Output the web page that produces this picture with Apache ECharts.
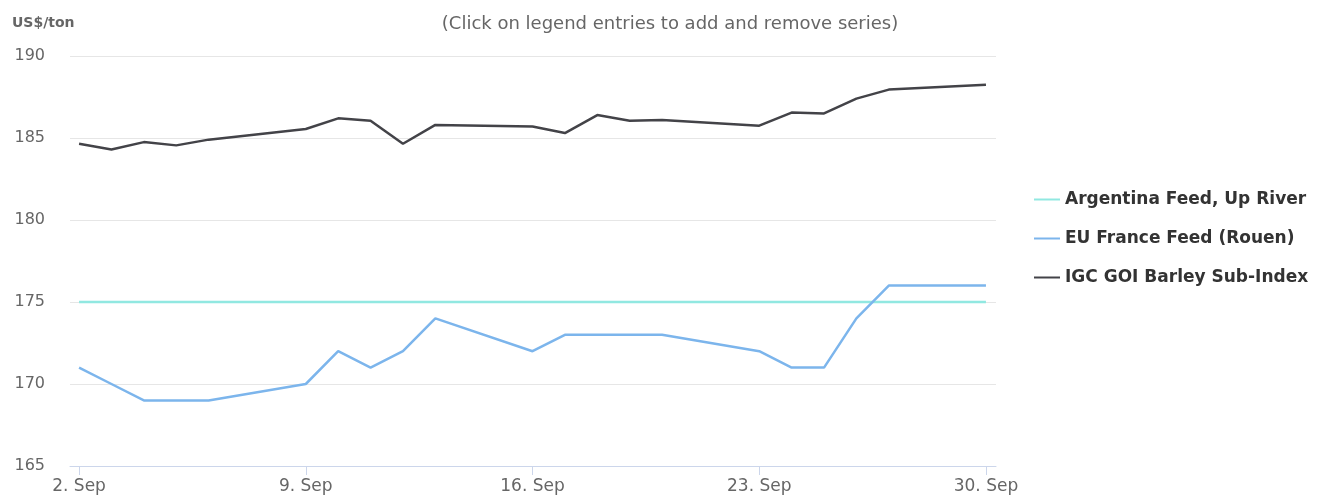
<!DOCTYPE html>
<html>
<head>
<meta charset="utf-8">
<title>Barley prices</title>
<script src="https://cdn.jsdelivr.net/npm/echarts@6/dist/echarts.min.js"></script>
<style>
    html, body { margin: 0; padding: 0; background: #fff; }
    #main { width: 1318px; height: 495px; }
</style>
</head>
<body>
<div id="main"></div>
<script>
// day of month (September), trading days only
var days = [2, 3, 4, 5, 6, 9, 10, 11, 12, 13, 16, 17, 18, 19, 20, 23, 24, 25, 26, 27, 30];
var argentina = [175, 175, 175, 175, 175, 175, 175, 175, 175, 175, 175, 175, 175, 175, 175, 175, 175, 175, 175, 175, 175];
var euFrance = [171, 170, 169, 169, 169, 170, 172, 171, 172, 174, 172, 173, 173, 173, 173, 172, 171, 171, 174, 176, 176];
var igcBarley = [184.65, 184.3, 184.75, 184.55, 184.9, 185.55, 186.2, 186.05, 184.65, 185.8, 185.7, 185.3, 186.4, 186.05, 186.1, 185.75, 186.55, 186.5, 187.4, 187.95, 188.25];
var xTicks = [2, 9, 16, 23, 30];
var seriesNames = ['Argentina Feed, Up River', 'EU France Feed (Rouen)', 'IGC GOI Barley Sub-Index'];

var pair = function(vals) {
    return days.map(function(d, i) { return [d, vals[i]]; });
};

var font = '"DejaVu Sans", Verdana, sans-serif';
var myChart = echarts.init(document.getElementById('main'));

var mkLine = function(name, vals, color) {
    return {
        name: name,
        type: 'line',
        data: pair(vals),
        showSymbol: false,
        symbol: 'none',
        lineStyle: { color: color, width: 2.5 },
        itemStyle: { color: color },
        animation: false
    };
};

var option = {
    backgroundColor: '#fff',
    title: {
        text: '(Click on legend entries to add and remove series)',
        left: 665,
        top: 10,
        textAlign: 'center',
        textStyle: { fontFamily: font, fontSize: 18, fontWeight: 'normal', color: '#666' }
    },
    legend: {
        orient: 'vertical',
        left: 1029,
        top: 186,
        itemWidth: 26,
        itemHeight: 2,
        itemGap: 22,
        icon: 'rect',
        data: seriesNames,
        textStyle: { fontFamily: font, fontSize: 17, fontWeight: 'bold', color: '#333', padding: [0, 0, 0, 0] }
    },
    grid: { left: 70, right: 322, top: 56, bottom: 29, containLabel: false },
    xAxis: {
        type: 'value',
        min: 1.72,
        max: 30.31,
        splitLine: { show: false },
        axisLine: { show: true, lineStyle: { color: '#ccd6eb', width: 1 } },
        axisTick: { show: true, customValues: xTicks, length: 9, lineStyle: { color: '#ccd6eb' } },
        axisLabel: {
            customValues: xTicks,
            margin: 12,
            fontFamily: font,
            fontSize: 17,
            color: '#666',
            formatter: function(v) { return v + '. Sep'; }
        }
    },
    yAxis: {
        type: 'value',
        min: 165,
        max: 190,
        interval: 5,
        name: 'US$/ton',
        nameLocation: 'end',
        nameGap: 26,
        nameTextStyle: { fontFamily: font, fontSize: 14, fontWeight: 'bold', color: '#666', align: 'left', padding: [0, 0, 0, -58] },
        axisLine: { show: false },
        axisTick: { show: false },
        splitLine: { lineStyle: { color: '#e6e6e6', width: 1 } },
        axisLabel: { fontFamily: font, fontSize: 16, color: '#666', margin: 25 }
    },
    series: [
        mkLine(seriesNames[0], argentina, '#91e8e1'),
        mkLine(seriesNames[1], euFrance, '#7cb5ec'),
        mkLine(seriesNames[2], igcBarley, '#434348')
    ]
};
myChart.setOption(option);
</script>
</body>
</html>
